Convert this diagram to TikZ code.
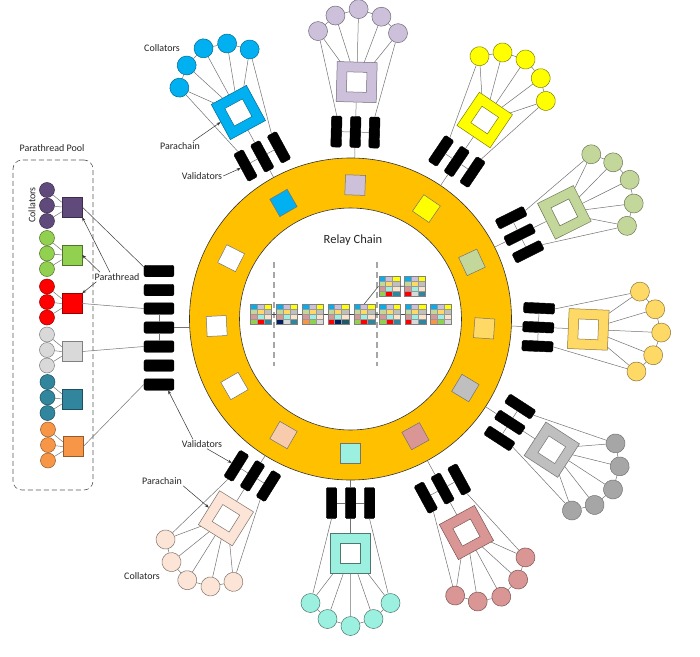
\documentclass[tikz,border=0pt]{standalone}
\usepackage{fontspec}
\setmainfont{Carlito}
\usetikzlibrary{arrows.meta,calc}
\definecolor{ringc}{HTML}{FFC000}
\definecolor{pblue}{HTML}{00B0F0}
\definecolor{plav}{HTML}{CCC0DA}
\definecolor{pyel}{HTML}{FFFF00}
\definecolor{pgrn}{HTML}{C4D79B}
\definecolor{plyel}{HTML}{FFD966}
\definecolor{psil}{HTML}{BFBFBF}
\definecolor{pgry}{HTML}{A6A6A6}
\definecolor{ppink}{HTML}{DA9694}
\definecolor{paqua}{HTML}{9CF0E0}
\definecolor{ppeach}{HTML}{FCE4D6}
\definecolor{ppeachd}{HTML}{F8CBAD}
\definecolor{pcell}{HTML}{FAE3C8}
\definecolor{tpur}{HTML}{604A7B}
\definecolor{tgrn}{HTML}{92D050}
\definecolor{tred}{HTML}{FF0000}
\definecolor{tlg}{HTML}{D9D9D9}
\definecolor{tteal}{HTML}{31859C}
\definecolor{torg}{HTML}{F79646}
\definecolor{tnavy}{HTML}{002060}
\definecolor{tdteal}{HTML}{215967}
\tikzset{
  link/.style={draw=black!55, line width=0.5pt},
  psq/.style={minimum size=40pt, inner sep=0pt, line width=0.5pt},
  pinner/.style={fill=white, minimum size=20pt, inner sep=0pt, line width=0.5pt},
  valbox/.style={fill=black, draw=black, minimum width=10.5pt, minimum height=31pt, inner sep=0pt, rounded corners=1.5pt},
  coll/.style={circle, minimum size=19pt, inner sep=0pt, line width=0.5pt},
  rsq/.style={minimum size=20pt, inner sep=0pt, draw=black!55, line width=0.5pt},
  tcir/.style={circle, minimum size=15pt, inner sep=0pt, line width=0.5pt},
  tsq/.style={minimum size=20pt, inner sep=0pt, line width=0.5pt},
  tbar/.style={fill=black, draw=black, minimum width=30pt, minimum height=11.5pt, inner sep=0pt, rounded corners=2pt},
  lbl/.style={font=\fontsize{10}{12}\selectfont, text=black!85, inner sep=1pt},
  arr/.style={-{Stealth[length=4pt,width=3pt]}, line width=0.5pt, draw=black!80},
  cellg/.style={draw=black!40, line width=0.3pt},
  blkf/.style={draw=black!50, line width=0.5pt, minimum width=21pt, minimum height=20pt, inner sep=0pt},
  chainl/.style={draw=black!70, line width=0.6pt},
  dashg/.style={draw=black!35, line width=1.6pt, dash pattern=on 6pt off 4pt},
}
% parachain module: name, angle, distance, square fill, circle fill, border
\newcommand\pchain[6]{%
\begin{scope}[shift={(#2:#3)}, rotate=#2-90, transform shape]
 \node[psq, fill=#4, draw=#6] (#1s) at (0,0) {};
 \node[pinner, draw=#6] (#1i) at (0,0) {};
 \node[valbox] (#1v1) at (-19,-50) {};
 \node[valbox] (#1v2) at (0,-50) {};
 \node[valbox] (#1v3) at (19,-50) {};
 \node[coll, fill=#5, draw=#6] (#1c1) at (-40,50) {};
 \node[coll, fill=#5, draw=#6] (#1c2) at (-23,66) {};
 \node[coll, fill=#5, draw=#6] (#1c3) at (0,73) {};
 \node[coll, fill=#5, draw=#6] (#1c4) at (23,66) {};
 \node[coll, fill=#5, draw=#6] (#1c5) at (40,50) {};
 \coordinate (#1r) at (0,{161-#3});
 \coordinate (#1t1) at (-17,20);
 \coordinate (#1t2) at (-7,20);
 \coordinate (#1t3) at (0,20);
 \coordinate (#1t4) at (7,20);
 \coordinate (#1t5) at (17,20);
 \draw[link] (#1c1)--(#1c2) (#1c2)--(#1c3) (#1c3)--(#1c4) (#1c4)--(#1c5);
 \draw[link] (#1c1)--(#1t1) (#1c2)--(#1t2) (#1c3)--(#1t3) (#1c4)--(#1t4) (#1c5)--(#1t5);
 \draw[link] (#1c1)--(#1v1.north) (#1c5)--(#1v3.north);
 \draw[link] (#1s)--(#1v2) (#1v2)--(#1r) (#1v1)--(#1v2) (#1v2)--(#1v3);
\end{scope}}
% parathread group: name, x, y of top circle, fill, border
\newcommand\ptg[5]{%
 \node[tcir, fill=#4, draw=#5] (#1a) at (#2,#3) {};
 \node[tcir, fill=#4, draw=#5] (#1b) at (#2,#3+15.5) {};
 \node[tcir, fill=#4, draw=#5] (#1c) at (#2,#3+31) {};
 \node[tsq, fill=#4, draw=#5] (#1) at (#2+25,#3+17) {};
 \draw[link] (#1a)--(#1.155) (#1b)--(#1.west) (#1c)--(#1.205);
}
% block: name, x, y (top left, pixels), last row colours
\newcommand\blk[6]{%
 \fill[pblue] (#2,#3) rectangle ++(7,5);
 \fill[plav] (#2+7,#3) rectangle ++(7,5);
 \fill[pyel] (#2+14,#3) rectangle ++(7,5);
 \fill[pgrn] (#2,#3+5) rectangle ++(7,5);
 \fill[plyel] (#2+7,#3+5) rectangle ++(7,5);
 \fill[psil] (#2+14,#3+5) rectangle ++(7,5);
 \fill[ppink] (#2,#3+10) rectangle ++(7,5);
 \fill[paqua] (#2+7,#3+10) rectangle ++(7,5);
 \fill[pcell] (#2+14,#3+10) rectangle ++(7,5);
 \fill[#4] (#2,#3+15) rectangle ++(7,5);
 \fill[#5] (#2+7,#3+15) rectangle ++(7,5);
 \fill[#6] (#2+14,#3+15) rectangle ++(7,5);
 \draw[cellg] (#2+7,#3)--++(0,20) (#2+14,#3)--++(0,20) (#2,#3+5)--++(21,0) (#2,#3+10)--++(21,0) (#2,#3+15)--++(21,0);
 \node[blkf, anchor=north west] (#1) at (#2,#3) {};
}
\begin{document}
\begin{tikzpicture}[x=1pt,y=1pt]
\useasboundingbox[fill=white] (-350.5,-337) rectangle (349.5,319);
% relay chain ring
\node[circle, minimum size=322pt, inner sep=0pt, fill=ringc, draw=black!80, line width=0.6pt] (ring) at (0,0) {};
\node[circle, minimum size=222pt, inner sep=0pt, fill=white, draw=black!80, line width=0.6pt] (inner) at (0,0) {};
% squares on the ring
\node[rsq, fill=pblue, rotate=30] (q1) at (120:134) {};
\node[rsq, fill=plav, rotate=-2] (q2) at (88:134) {};
\node[rsq, fill=pyel, rotate=-34.5] (q3) at (55.5:134) {};
\node[rsq, fill=pgrn, rotate=-65] (q4) at (25:134) {};
\node[rsq, fill=plyel, rotate=-94] (q5) at (-4:134) {};
\node[rsq, fill=psil, rotate=-121] (q6) at (-31:134) {};
\node[rsq, fill=ppink, rotate=-151] (q7) at (-61:134) {};
\node[rsq, fill=paqua] (q8) at (-90:134) {};
\node[rsq, fill=ppeachd, rotate=-30] (q9) at (-120:134) {};
\node[rsq, fill=white, rotate=-60] (q10) at (-150:134) {};
\node[rsq, fill=white, rotate=-87] (q11) at (-177:134) {};
\node[rsq, fill=white, rotate=63] (q12) at (153:134) {};
% parachains
\pchain{mb}{118.5}{235}{pblue}{pblue}{pblue!60!black}
\pchain{ml}{88.5}{237}{plav}{plav}{plav!55!black}
\pchain{my}{56}{240}{pyel}{pyel}{pyel!50!black}
\pchain{mg}{26.5}{239}{pgrn}{pgrn}{pgrn!55!black}
\pchain{mq}{-2.5}{238}{plyel}{plyel}{plyel!55!black}
\pchain{ms}{-33}{240}{psil}{pgry}{black!55}
\pchain{mp}{-61.5}{243}{ppink}{ppink}{ppink!55!black}
\pchain{mc}{-90}{234}{paqua}{paqua}{paqua!50!black}
\pchain{mh}{-122}{235}{ppeach}{ppeach}{ppeach!50!black}
% everything else in pixel coordinates
\begin{scope}[shift={(-350.5,319)}, yscale=-1]
 % parathread pool
 \node[draw=black!65, line width=0.6pt, dash pattern=on 5pt off 3pt, rounded corners=9pt, minimum width=80pt, minimum height=330pt, inner sep=0pt] (pool) at (53,325) {};
 \node[lbl] (lpool) at (52,148) {Parathread Pool};
 \node[lbl, rotate=90] (lcoll) at (32,205) {Collators};
 \ptg{tp}{47}{190}{tpur}{tpur!60!black}
 \ptg{tg}{47}{238}{tgrn}{tgrn!55!black}
 \ptg{tr}{47}{286.5}{tred}{tred!60!black}
 \ptg{ts}{47}{334.5}{tlg}{black!50}
 \ptg{tt}{47.5}{382}{tteal}{tteal!60!black}
 \ptg{to}{48}{429.5}{torg}{torg!60!black}
 % parathread validators
 \node[tbar] (r1) at (159,271) {};
 \node[tbar] (r2) at (159,290) {};
 \node[tbar] (r3) at (159,308.5) {};
 \node[tbar] (r4) at (159,327.5) {};
 \node[tbar] (r5) at (159,346.5) {};
 \node[tbar] (r6) at (159,365.5) {};
 \node[tbar] (r7) at (159,384.5) {};
 \coordinate (rr) at (190.3,327.5);
 \draw[link] (r3)--(r4) (r4)--(r5) (r4.east)--(rr);
 \draw[link, draw=black!75] (tp.east)--(r1.165);
 \draw[link] (tr.east)--(r3.west) (ts.east)--(r5.west) (to.east)--(r7.west);
 \node[lbl] (lpt) at (117,277) {Parathread};
 \draw[arr] ([xshift=-7pt]lpt.north)--(tp.south east);
 \draw[arr] ([xshift=-17pt]lpt.north)--(tg.east);
 \draw[arr] ([xshift=3pt]lpt.south west)--(tr.north east);
 % labels of the parachains
 \node[lbl] (lct) at (162,48) {Collators};
 \node[lbl] (lpc) at (180,146) {Parachain};
 \node[lbl] (lvt) at (202,176) {Validators};
 \draw[arr] ([xshift=13pt]lpc.north)--(mbs.west);
 \draw[arr] (lvt.east)--(mbv1.west);
 \node[lbl] (lvb) at (202,444) {Validators};
 \draw[arr] ([xshift=-9pt]lvb.north)--(r7.-33);
 \draw[arr] ([xshift=5pt]lvb.south)--(mhv3.east);
 \node[lbl] (lpb) at (162,481) {Parachain};
 \draw[arr] (lpb.south east)--(mhs.east);
 \node[lbl] (lcb) at (142,576) {Collators};
 % relay chain
 \node[font=\fontsize{12.5}{14}\selectfont, text=black!85] (lrc) at (353,240) {Relay Chain};
 \coordinate (d1a) at (274,262);
 \coordinate (d1b) at (274,366);
 \coordinate (d2a) at (377,262);
 \coordinate (d2b) at (377,366);
 \draw[dashg] (d1a)--(d1b) (d2a)--(d2b);
 \blk{b1}{250}{304}{tgrn}{tred}{tteal}
 \blk{b2}{276}{304}{tnavy}{tlg}{tteal}
 \blk{b3}{302}{304}{torg}{tgrn}{tlg}
 \blk{b4}{327.5}{304}{tred}{tnavy}{tdteal}
 \blk{b5}{353.5}{304}{tgrn}{tred}{tteal}
 \blk{b6}{379}{304}{tgrn}{tred}{tteal}
 \blk{b7}{404.5}{304}{tred}{tlg}{tteal}
 \blk{b8}{430}{304}{torg}{tgrn}{tlg}
 \blk{u1}{378.5}{276}{tgrn}{tred}{tteal}
 \blk{u2}{404}{276}{tred}{tlg}{tteal}
 \draw[chainl] (b1)--(b2) (b2)--(b3) (b3)--(b4) (b4)--(b5) (b5)--(b6) (b6)--(b7) (b7)--(b8);
 \draw[chainl] (b5.north)--(u1.west) (u1)--(u2);
\end{scope}
\end{tikzpicture}
\end{document}
